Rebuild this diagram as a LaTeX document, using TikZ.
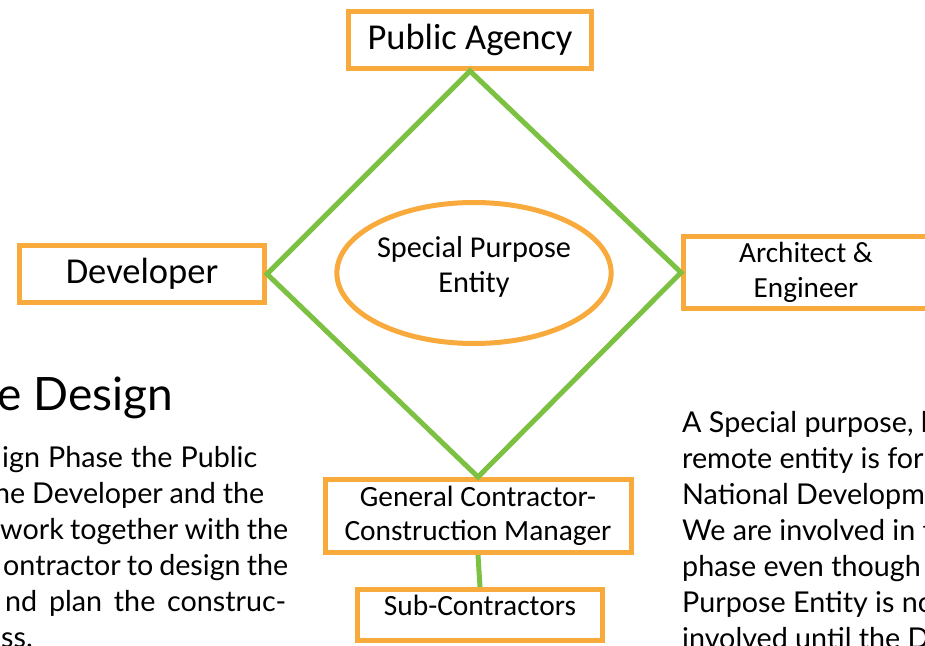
\documentclass[tikz,border=0pt]{standalone}
\usepackage{fontspec}
\usetikzlibrary{shapes.geometric}
\setmainfont{Carlito}
\newfontfamily\bodyfont{Lato}
\definecolor{boxorange}{RGB}{249,170,60}
\definecolor{linegreen}{RGB}{124,193,66}
\tikzset{
  orgbox/.style={draw=boxorange, line width=5pt, fill=white, inner sep=0pt, align=center},
  greenline/.style={draw=linegreen, line width=5pt},
  bodytext/.style={inner sep=0pt, font=\bodyfont\fontsize{28.7}{36}\selectfont},
}
\begin{document}
\begin{tikzpicture}[x=1pt,y=-1pt]
\useasboundingbox (0,0) rectangle (925,645);
\clip (0,0) rectangle (925,645);
\fill[white] (0,0) rectangle (925,645);
% boxes
\node[orgbox, minimum width=243pt, minimum height=57pt, font=\fontsize{36.5}{36}\selectfont] (pa) at (470,40) {Public Agency};
\node[orgbox, minimum width=245pt, minimum height=57pt, font=\fontsize{36.5}{36}\selectfont] (dev) at (142,274) {Developer};
\node[orgbox, minimum width=245pt, minimum height=72pt, font=\fontsize{29.2}{35}\selectfont] (ae) at (806,272.5) {Architect \&\\Engineer};
\node[orgbox, minimum width=306pt, minimum height=73pt, font=\fontsize{29.4}{34}\selectfont] (gc) at (478,516) {General Contractor-\\Construction Manager};
\node[orgbox, minimum width=245pt, minimum height=51pt, font=\fontsize{29.4}{30}\selectfont] (sub) at (480,615) {Sub-Contractors\rule[-19pt]{0pt}{19pt}};
% diamond
\draw[greenline] (pa.south) -- (ae.west) -- (gc.north) -- (dev.east) -- cycle;
\draw[greenline] (gc.south) -- (sub.north);
% ellipse
\node[draw=boxorange, line width=5pt, ellipse, minimum width=243pt, minimum height=141pt, inner sep=0pt, align=center, font=\fontsize{30.3}{35}\selectfont] (spe) at (474,273) {Special Purpose\\Entity\rule[-18pt]{0pt}{18pt}};
% left text
\node[anchor=base east, inner sep=0pt, font=\bodyfont\fontsize{46}{50}\selectfont] (head) at (173,410) {e Design};
\node[bodytext, anchor=base west] (l1) at (2,467) {\makebox[255pt][s]{ign Phase the Public}};
\node[bodytext, anchor=base west] (l2) at (-6,503) {\makebox[270pt][s]{he Developer and the}};
\node[bodytext, anchor=base west] (l3) at (0,539) {\makebox[288pt][s]{work together with the}};
\node[bodytext, anchor=base west] (l4) at (3,575) {\makebox[285pt][s]{ontractor to design the}};
\node[bodytext, anchor=base west] (l5) at (5,611) {\makebox[281pt][s]{nd plan the construc-}};
\node[bodytext, anchor=base east] (l6) at (33,647) {ess.};
% right text
\node[bodytext, anchor=base west] (r1) at (682,432) {A Special purpose, l};
\node[bodytext, anchor=base west] (r2) at (682,468) {remote entity is form};
\node[bodytext, anchor=base west] (r3) at (682,504) {National Developm};
\node[bodytext, anchor=base west] (r4) at (682,540) {We are involved in t};
\node[bodytext, anchor=base west] (r5) at (682,576) {phase even though};
\node[bodytext, anchor=base west] (r6) at (682,612) {Purpose Entity is no};
\node[bodytext, anchor=base west] (r7) at (682,648) {involved until the D};
\end{tikzpicture}
\end{document}
